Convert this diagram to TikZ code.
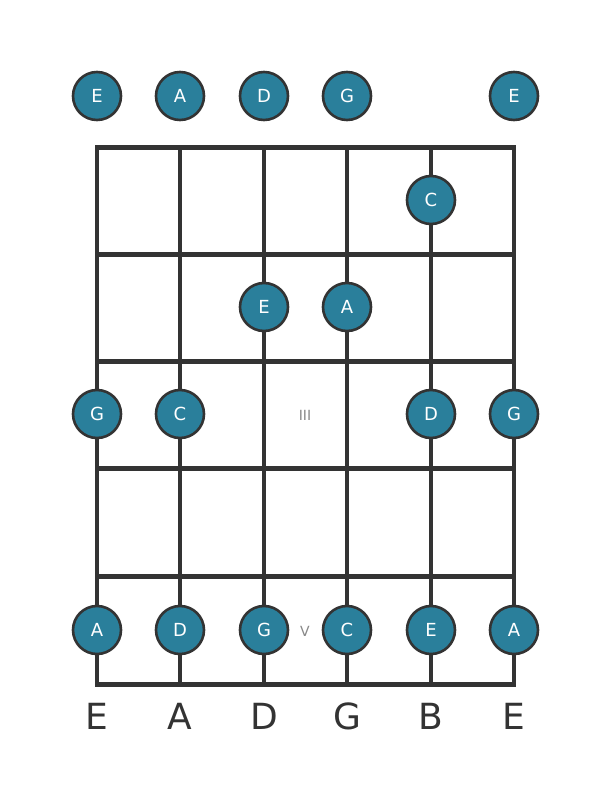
\documentclass[tikz,border=0pt]{standalone}
\usepackage{fontspec}
\setmainfont{DejaVu Sans}
\definecolor{notefill}{HTML}{2A7F9B}
\definecolor{linecol}{HTML}{333333}
\definecolor{romancol}{HTML}{888888}
\begin{document}
\begin{tikzpicture}[x=1pt,y=-1pt,
  note/.style={circle,draw=linecol,line width=2.6pt,fill=notefill,minimum size=48pt,inner sep=0pt,text=white,font=\fontsize{18}{18}\selectfont},
  stringline/.style={draw=linecol,line width=3.4pt},
  fretline/.style={draw=linecol,line width=5pt},
  roman/.style={text=romancol,font=\fontsize{14}{14}\selectfont},
  strlabel/.style={text=linecol,font=\fontsize{36}{36}\selectfont}]
\useasboundingbox (0,0) rectangle (611,801);
% strings
\foreach \x in {97,180,264,347,431,514}{
  \draw[stringline] (\x,147) -- (\x,684);
}
% frets
\foreach \y in {147,254,361,468,576,684}{
  \draw[fretline] (95,\y) -- (516,\y);
}
% open strings
\node[note] (o1) at (97,96) {E};
\node[note] (o2) at (180,96) {A};
\node[note] (o3) at (264,96) {D};
\node[note] (o4) at (347,96) {G};
\node[note] (o6) at (514,96) {E};
% fret 1
\node[note] (f1s5) at (431,200) {C};
% fret 2
\node[note] (f2s3) at (264,307) {E};
\node[note] (f2s4) at (347,307) {A};
% fret 3
\node[note] (f3s1) at (97,414) {G};
\node[note] (f3s2) at (180,414) {C};
\node[note] (f3s5) at (431,414) {D};
\node[note] (f3s6) at (514,414) {G};
\node[roman] (r3) at (305,415) {III};
% fret 5
\node[note] (f5s1) at (97,630) {A};
\node[note] (f5s2) at (180,630) {D};
\node[note] (f5s3) at (264,630) {G};
\node[note] (f5s4) at (347,630) {C};
\node[note] (f5s5) at (431,630) {E};
\node[note] (f5s6) at (514,630) {A};
\node[roman] (r5) at (305,631) {V};
% string names
\node[strlabel] (n1) at (97,716) {E};
\node[strlabel] (n2) at (180,716) {A};
\node[strlabel] (n3) at (264,716) {D};
\node[strlabel] (n4) at (347,716) {G};
\node[strlabel] (n5) at (431,716) {B};
\node[strlabel] (n6) at (514,716) {E};
\end{tikzpicture}
\end{document}
